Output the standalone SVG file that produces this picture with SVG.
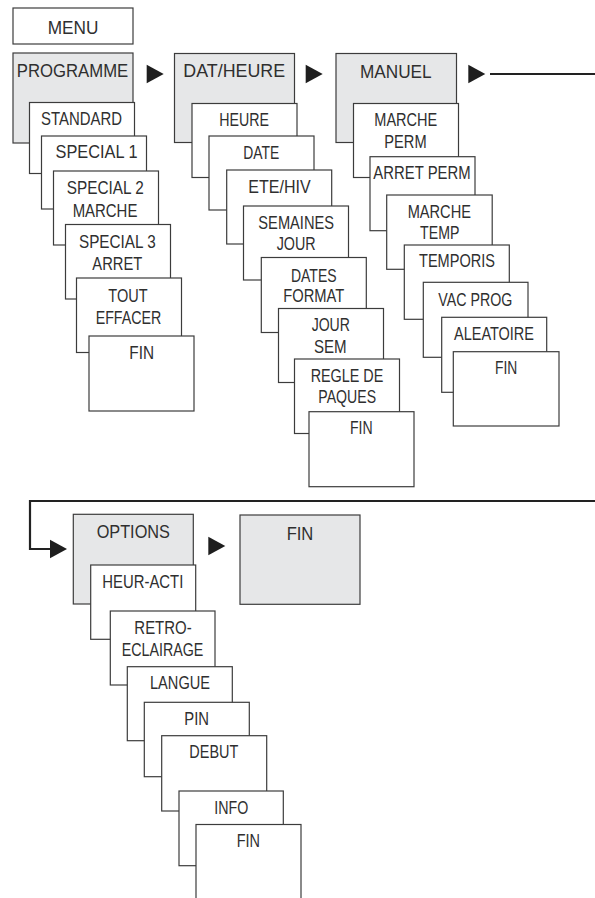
<svg xmlns="http://www.w3.org/2000/svg" xmlns:xlink="http://www.w3.org/1999/xlink" width="595" height="898" viewBox="0 0 595 898">
<style>
.b{fill:#ffffff;stroke:#3c3c3c;stroke-width:1.2}
.g{fill:#e6e7e8;stroke:#3c3c3c;stroke-width:1.2}
text{font-family:"Liberation Sans",Arial,sans-serif;font-size:19px;fill:#2f2f2f;text-anchor:middle}
.ln{fill:none;stroke:#222;stroke-width:2.2}
.ar{fill:#1e1e1e}
</style>
<defs>
<path id="tri" d="M0,-9.2L17,0L0,9.2Z"/>
</defs>
<rect width="595" height="898" fill="#ffffff"/>

<g id="menu"><rect class="b" x="13" y="8" width="120" height="36"/><text x="73" y="34.3" textLength="50.7" lengthAdjust="spacingAndGlyphs">MENU</text></g>

<!-- Column 1 -->
<g id="programme"><rect class="g" x="13" y="53" width="120" height="90"/><text x="72.5" y="77.3" textLength="111.5" lengthAdjust="spacingAndGlyphs">PROGRAMME</text></g>
<g id="standard"><rect class="b" x="29.5" y="102.5" width="105" height="71"/><text x="81.5" y="125" textLength="81" lengthAdjust="spacingAndGlyphs">STANDARD</text></g>
<g id="special1"><rect class="b" x="41.5" y="136" width="105" height="73"/><text x="96.5" y="158.3" textLength="82" lengthAdjust="spacingAndGlyphs">SPECIAL 1</text></g>
<g id="special2"><rect class="b" x="53.5" y="171" width="105" height="74"/><text x="105.3" y="194.3" textLength="77" lengthAdjust="spacingAndGlyphs">SPECIAL 2</text><text x="105" y="216.7" textLength="64.7" lengthAdjust="spacingAndGlyphs">MARCHE</text></g>
<g id="special3"><rect class="b" x="65.5" y="224.5" width="105" height="74.5"/><text x="117.3" y="248.3" textLength="76.7" lengthAdjust="spacingAndGlyphs">SPECIAL 3</text><text x="117.3" y="270" textLength="50" lengthAdjust="spacingAndGlyphs">ARRET</text></g>
<g id="toutEffacer"><rect class="b" x="76.5" y="278" width="105" height="74.5"/><text x="128" y="301.7" textLength="39.3" lengthAdjust="spacingAndGlyphs">TOUT</text><text x="128.5" y="324" textLength="65.7" lengthAdjust="spacingAndGlyphs">EFFACER</text></g>
<g id="fin1"><rect class="b" x="89" y="336" width="105" height="75"/><text x="141.7" y="359" textLength="24.7" lengthAdjust="spacingAndGlyphs">FIN</text></g>

<!-- Column 2 -->
<g id="datHeure"><rect class="g" x="174.5" y="53.5" width="120" height="89"/><text x="234.2" y="77.3" textLength="101.7" lengthAdjust="spacingAndGlyphs">DAT/HEURE</text></g>
<g id="heure"><rect class="b" x="192" y="103.5" width="105" height="74"/><text x="244.2" y="126" textLength="49.7" lengthAdjust="spacingAndGlyphs">HEURE</text></g>
<g id="date"><rect class="b" x="209" y="136" width="105" height="74"/><text x="261.3" y="159" textLength="36" lengthAdjust="spacingAndGlyphs">DATE</text></g>
<g id="eteHiv"><rect class="b" x="226.7" y="170" width="105" height="74"/><text x="279.5" y="192.7" textLength="62.3" lengthAdjust="spacingAndGlyphs">ETE/HIV</text></g>
<g id="semainesJour"><rect class="b" x="243.5" y="206" width="105" height="74"/><text x="296.2" y="229" textLength="75.7" lengthAdjust="spacingAndGlyphs">SEMAINES</text><text x="296.2" y="250" textLength="39" lengthAdjust="spacingAndGlyphs">JOUR</text></g>
<g id="datesFormat"><rect class="b" x="261.3" y="257.5" width="105" height="75"/><text x="313.8" y="281.7" textLength="45.7" lengthAdjust="spacingAndGlyphs">DATES</text><text x="313.8" y="301.7" textLength="61" lengthAdjust="spacingAndGlyphs">FORMAT</text></g>
<g id="jourSem"><rect class="b" x="278.5" y="308.5" width="105" height="74"/><text x="330.8" y="331" textLength="38.3" lengthAdjust="spacingAndGlyphs">JOUR</text><text x="330.3" y="353.3" textLength="32.7" lengthAdjust="spacingAndGlyphs">SEM</text></g>
<g id="regleDePaques"><rect class="b" x="294.5" y="359" width="105" height="74.5"/><text x="347" y="381.7" textLength="72.7" lengthAdjust="spacingAndGlyphs">REGLE DE</text><text x="347.2" y="403.3" textLength="57.7" lengthAdjust="spacingAndGlyphs">PAQUES</text></g>
<g id="fin2"><rect class="b" x="309" y="411.7" width="105" height="75"/><text x="361.3" y="434" textLength="22.7" lengthAdjust="spacingAndGlyphs">FIN</text></g>

<!-- Column 3 -->
<g id="manuel"><rect class="g" x="336" y="53.5" width="120.5" height="89"/><text x="395.8" y="77.7" textLength="71.7" lengthAdjust="spacingAndGlyphs">MANUEL</text></g>
<g id="marchePerm"><rect class="b" x="353.5" y="103.5" width="105" height="74"/><text x="405.8" y="126" textLength="63" lengthAdjust="spacingAndGlyphs">MARCHE</text><text x="405.5" y="147.7" textLength="42.3" lengthAdjust="spacingAndGlyphs">PERM</text></g>
<g id="arretPerm"><rect class="b" x="370" y="156.7" width="105" height="74"/><text x="422" y="179.3" textLength="97.3" lengthAdjust="spacingAndGlyphs">ARRET PERM</text></g>
<g id="marcheTemp"><rect class="b" x="386.7" y="195" width="105.5" height="74.3"/><text x="439.3" y="217.7" textLength="63.3" lengthAdjust="spacingAndGlyphs">MARCHE</text><text x="439.7" y="239.3" textLength="39.3" lengthAdjust="spacingAndGlyphs">TEMP</text></g>
<g id="temporis"><rect class="b" x="404.3" y="245" width="105" height="74.3"/><text x="457" y="267.3" textLength="76" lengthAdjust="spacingAndGlyphs">TEMPORIS</text></g>
<g id="vacProg"><rect class="b" x="423.3" y="282.3" width="104.7" height="75"/><text x="475.3" y="305.7" textLength="74" lengthAdjust="spacingAndGlyphs">VAC PROG</text></g>
<g id="aleatoire"><rect class="b" x="441.7" y="317.3" width="105" height="75"/><text x="494" y="340" textLength="80" lengthAdjust="spacingAndGlyphs">ALEATOIRE</text></g>
<g id="fin3"><rect class="b" x="453.3" y="351.7" width="105.7" height="74.3"/><text x="506.2" y="374" textLength="22.3" lengthAdjust="spacingAndGlyphs">FIN</text></g>

<!-- Bottom -->
<g id="options"><rect class="g" x="73.3" y="514.3" width="120" height="89.7"/><text x="133.3" y="538.3" textLength="73.3" lengthAdjust="spacingAndGlyphs">OPTIONS</text></g>
<g id="finMain"><rect class="g" x="240" y="515" width="120" height="89.3"/><text x="300" y="540" textLength="26.7" lengthAdjust="spacingAndGlyphs">FIN</text></g>
<g id="heurActi"><rect class="b" x="90.7" y="565" width="105" height="74.3"/><text x="142.8" y="588.3" textLength="81" lengthAdjust="spacingAndGlyphs">HEUR-ACTI</text></g>
<g id="retroEclairage"><rect class="b" x="110.3" y="611" width="104.7" height="74"/><text x="163" y="634" textLength="57.3" lengthAdjust="spacingAndGlyphs">RETRO-</text><text x="162.5" y="655.7" textLength="81.7" lengthAdjust="spacingAndGlyphs">ECLAIRAGE</text></g>
<g id="langue"><rect class="b" x="127.3" y="666.7" width="105" height="74"/><text x="180" y="689" textLength="60" lengthAdjust="spacingAndGlyphs">LANGUE</text></g>
<g id="pin"><rect class="b" x="144.3" y="702.3" width="105" height="74.4"/><text x="196.7" y="725" textLength="24.7" lengthAdjust="spacingAndGlyphs">PIN</text></g>
<g id="debut"><rect class="b" x="161.7" y="735.7" width="105" height="75.3"/><text x="213.8" y="758.3" textLength="49" lengthAdjust="spacingAndGlyphs">DEBUT</text></g>
<g id="info"><rect class="b" x="179" y="791" width="104.3" height="74.7"/><text x="231.3" y="814" textLength="34" lengthAdjust="spacingAndGlyphs">INFO</text></g>
<g id="fin4"><rect class="b" x="196" y="824.5" width="105" height="90"/><text x="248.3" y="847.3" textLength="23.3" lengthAdjust="spacingAndGlyphs">FIN</text></g>

<g id="connectors">
<use class="ar" xlink:href="#tri" x="146.7" y="74"/>
<use class="ar" xlink:href="#tri" x="305.7" y="74"/>
<use class="ar" xlink:href="#tri" x="468.3" y="74"/>
<path class="ln" d="M490,74H596"/>
<path class="ln" d="M596,501H30V549H52"/>
<use class="ar" xlink:href="#tri" x="50" y="549"/>
<use class="ar" xlink:href="#tri" x="208.3" y="546"/>
</g>
</svg>
